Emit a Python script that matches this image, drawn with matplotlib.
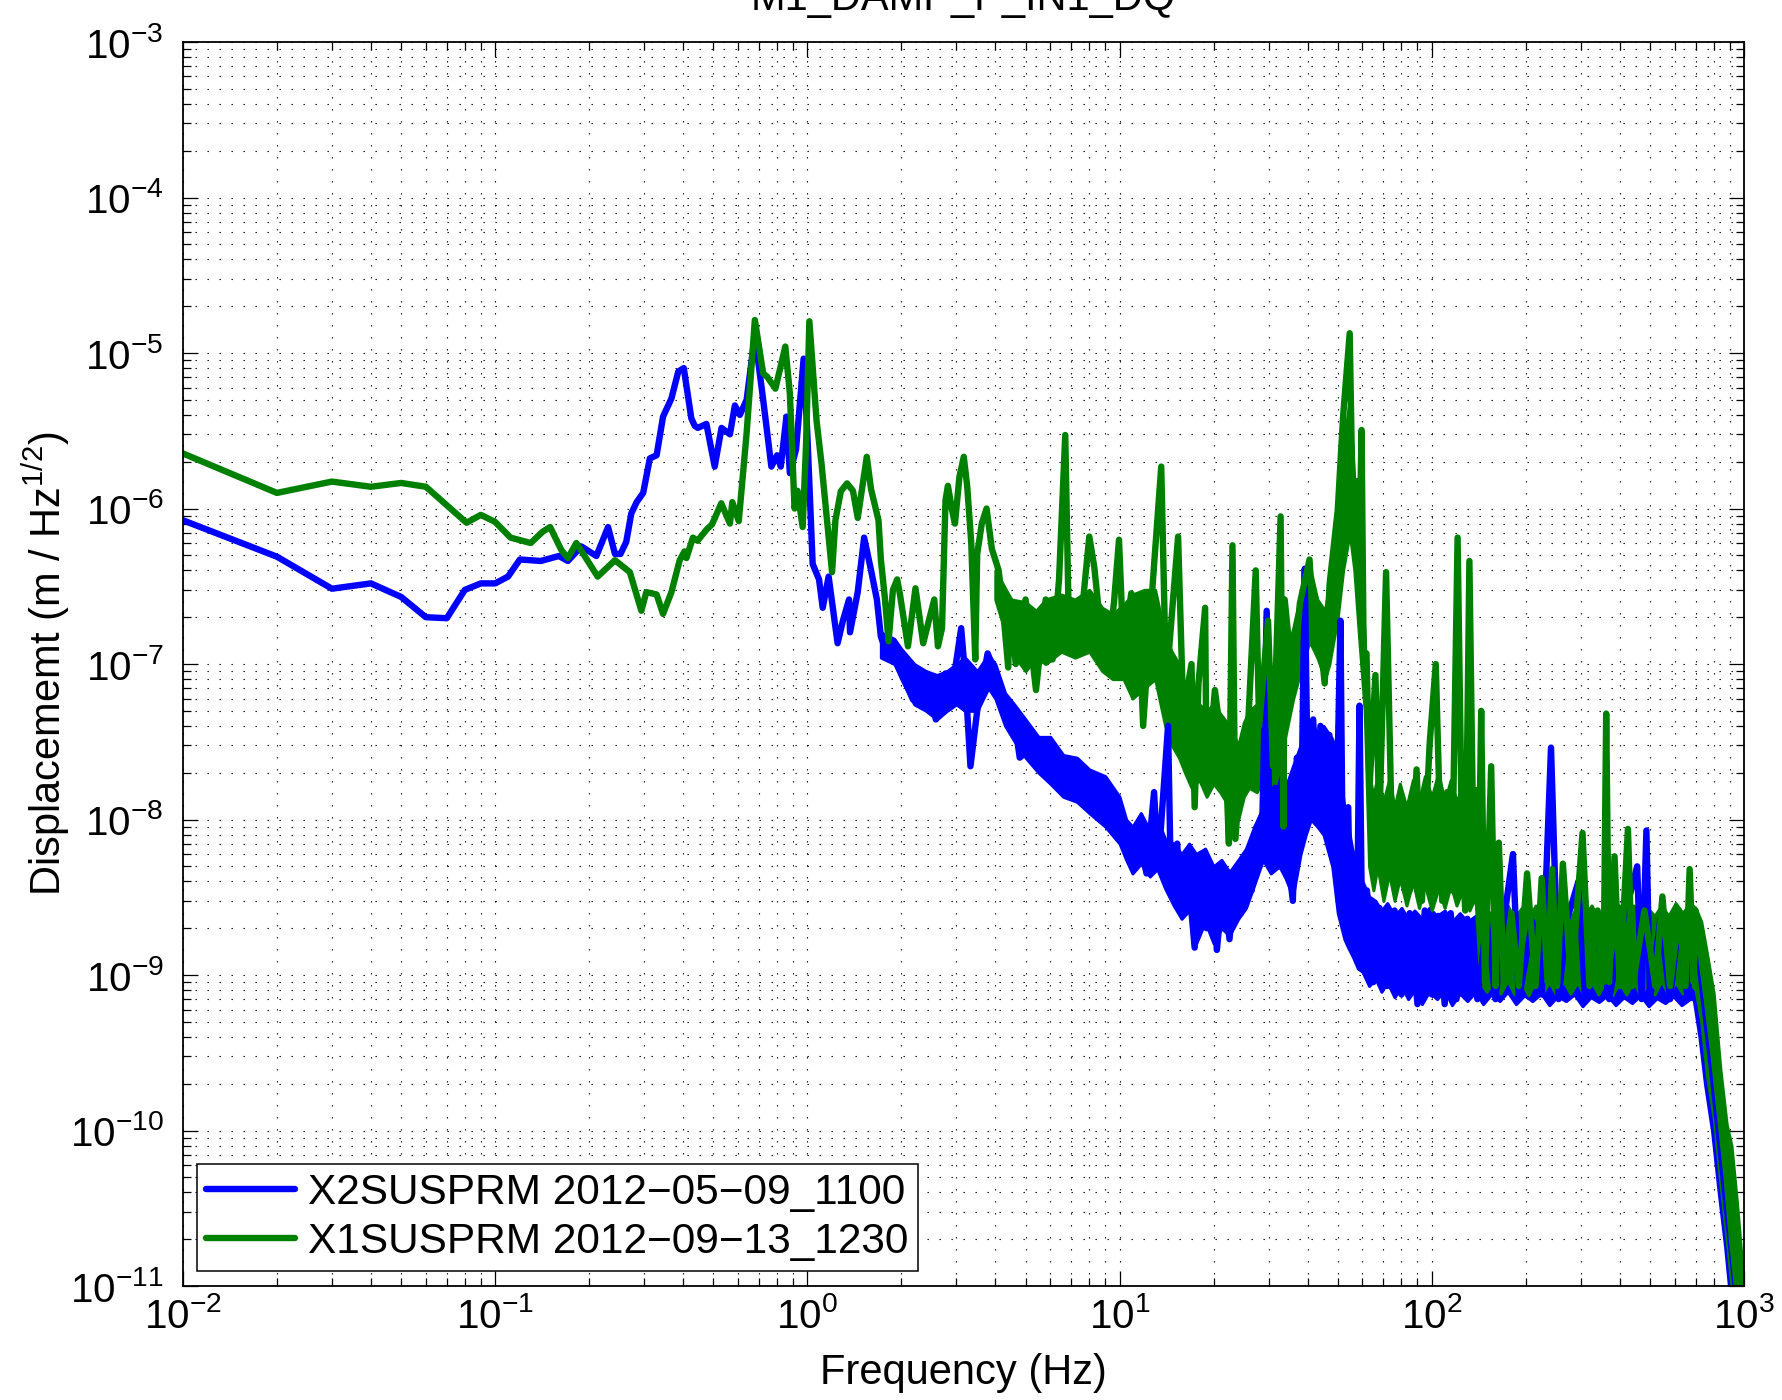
import numpy as np
import matplotlib
matplotlib.use("Agg")
import matplotlib.pyplot as plt
from matplotlib.ticker import LogLocator, NullFormatter

# X2SUSPRM trace (Hz, m/rtHz)
blue_f = [0.010, 0.020, 0.030, 0.040, 0.050, 0.060, 0.070, 0.080, 0.090, 0.100,
          0.110, 0.120, 0.140, 0.160, 0.171, 0.189, 0.211, 0.230, 0.242, 0.252,
          0.263, 0.273, 0.284, 0.298, 0.313, 0.329, 0.345, 0.367, 0.386, 0.402,
          0.425, 0.436, 0.446, 0.475, 0.505, 0.531, 0.565, 0.586, 0.608, 0.639,
          0.679, 0.722, 0.767, 0.800, 0.822, 0.857, 0.879, 0.920, 0.973, 1.000,
          1.04, 1.09, 1.12, 1.17, 1.25, 1.30, 1.36, 1.37, 1.45, 1.52,
          1.60, 1.67, 1.72, 1.82, 1.90, 2.00, 2.18, 2.40, 2.58, 2.77,
          2.85, 3.11, 3.20, 3.33, 3.50, 3.78, 3.90, 4.10, 4.57, 4.79,
          5.10, 5.80, 6.60, 7.30, 8.40, 9.50, 10.5, 11.0, 11.5, 12.2,
          12.9, 13.3, 14.3, 14.6, 15.3, 15.8, 16.5, 17.4, 18.2, 19.0,
          19.8, 20.5, 21.5, 22.5, 23.5, 24.5, 25.5, 26.5, 27.5, 28.5,
          29.6, 30.2, 31.5, 32.5, 33.5, 34.5, 35.9, 37.0, 38.2, 39.2,
          40.0, 41.7, 43.0, 44.0, 45.5, 47.0, 48.5, 50.0, 51.0, 52.0,
          54.0, 55.0, 56.5, 57.5, 58.7, 60.0, 62.0, 65.0, 68.0, 72.0,
          76.0, 80.0, 85.0, 90.0, 95.0, 100, 105, 110, 115, 120,
          130, 140, 150, 160, 170, 182, 190, 210, 225, 241,
          255, 270, 295, 310, 340, 370, 410, 455, 470, 487,
          500, 540, 580, 620, 660, 690, 720, 750, 790, 830,
          870, 905, 940, 980]
blue_amp = [8.4e-7, 4.9e-7, 3.05e-7, 3.3e-7, 2.7e-7, 2.0e-7, 1.97e-7, 3.0e-7, 3.3e-7, 3.3e-7,
            3.65e-7, 4.7e-7, 4.6e-7, 4.95e-7, 4.6e-7, 5.7e-7, 4.95e-7, 7.6e-7, 5.1e-7, 5.1e-7,
            6.1e-7, 9.3e-7, 1.1e-6, 1.26e-6, 2.1e-6, 2.2e-6, 3.9e-6, 5.1e-6, 7.6e-6, 8.0e-6,
            3.8e-6, 3.4e-6, 3.3e-6, 3.5e-6, 1.86e-6, 3.3e-6, 3.0e-6, 4.6e-6, 4.0e-6, 5.0e-6,
            1.3e-5, 5.0e-6, 1.86e-6, 2.2e-6, 1.86e-6, 3.9e-6, 1.69e-6, 2.4e-6, 9.2e-6, 3.0e-6,
            4.4e-7, 3.5e-7, 2.3e-7, 3.65e-7, 1.36e-7, 1.9e-7, 2.6e-7, 1.6e-7, 2.9e-7, 6.5e-7,
            4.0e-7, 2.6e-7, 1.5e-7, 1.09e-7, 1.36e-7, 8.7e-8, 5.9e-8, 8.7e-8, 4.4e-8, 8.7e-8,
            5.2e-8, 1.7e-7, 8.5e-8, 2.2e-8, 5.0e-8, 1.17e-7, 1.0e-7, 5.9e-8, 4.8e-8, 2.5e-8,
            2.8e-8, 2.0e-8, 1.6e-8, 1.8e-8, 1.27e-8, 1.1e-8, 9.0e-9, 5.0e-9, 8.0e-9, 4.5e-9,
            1.5e-8, 5.0e-9, 4.0e-8, 4.0e-9, 7.0e-9, 2.5e-9, 5.0e-9, 1.5e-9, 6.0e-9, 2.0e-9,
            4.5e-9, 1.45e-9, 4.0e-9, 1.7e-9, 4.5e-9, 2.5e-9, 6.0e-9, 3.5e-9, 9.0e-9, 5.5e-9,
            2.2e-7, 8.0e-9, 1.6e-8, 5.0e-9, 2.0e-8, 6.0e-9, 3.0e-9, 2.5e-8, 1.0e-8, 4.1e-7,
            2.0e-8, 4.4e-8, 1.2e-8, 4.0e-8, 1.0e-8, 3.5e-8, 6.0e-9, 2.5e-8, 1.9e-7, 3.0e-9,
            1.2e-8, 1.6e-9, 6.0e-9, 1.3e-9, 5.4e-8, 1.1e-9, 3.5e-9, 9.0e-10, 2.7e-9, 8.5e-10,
            2.6e-9, 7.5e-10, 2.5e-9, 6.5e-10, 2.6e-9, 7.5e-10, 2.4e-9, 6.5e-10, 2.5e-9, 7.0e-10,
            2.3e-9, 7.0e-10, 2.2e-9, 7.0e-10, 2.2e-9, 6.0e-9, 7.0e-10, 2.2e-9, 7.5e-10, 2.9e-8,
            7.0e-10, 2.2e-9, 4.0e-9, 7.0e-10, 2.2e-9, 7.0e-10, 2.2e-9, 5.0e-9, 7.0e-10, 8.5e-9,
            7.0e-10, 2.3e-9, 7.0e-10, 2.4e-9, 7.0e-10, 2.5e-9, 1.2e-9, 6.0e-10, 2.5e-10, 1.0e-10,
            4.0e-11, 2.0e-11, 1.0e-11, 5.0e-12]

# noisy stretch of the X2SUSPRM trace: (Hz, lower edge, upper edge)
blue_band = [
    (1.72, 1.1e-7, 1.6e-7), (1.90, 1.0e-7, 1.45e-7), (2.00, 8.0e-8, 1.25e-7),
    (2.20, 5.5e-8, 1.0e-7), (2.40, 5.0e-8, 9.0e-8), (2.60, 4.4e-8, 8.5e-8),
    (2.80, 5.0e-8, 9.0e-8), (3.00, 5.5e-8, 1.0e-7), (3.20, 5.0e-8, 1.1e-7),
    (3.50, 5.0e-8, 9.0e-8), (3.80, 7.0e-8, 1.15e-7), (4.00, 6.0e-8, 1.0e-7),
    (4.30, 4.0e-8, 6.5e-8), (4.60, 3.2e-8, 5.5e-8), (5.00, 2.5e-8, 4.4e-8),
    (5.50, 2.0e-8, 3.4e-8), (6.00, 1.7e-8, 3.4e-8), (6.60, 1.4e-8, 2.6e-8),
    (7.30, 1.3e-8, 2.5e-8), (8.00, 1.1e-8, 2.1e-8), (9.00, 9.0e-9, 1.9e-8),
    (10.0, 7.0e-9, 1.4e-8), (10.5, 5.5e-9, 1.0e-8), (11.0, 4.5e-9, 9.0e-9),
    (11.7, 5.2e-9, 1.1e-8), (12.5, 4.3e-9, 8.5e-9), (13.2, 4.8e-9, 1.0e-8),
    (14.0, 3.6e-9, 7.5e-9), (14.9, 2.8e-9, 7.0e-9), (15.8, 2.3e-9, 6.0e-9),
    (16.7, 2.6e-9, 7.0e-9), (17.6, 1.6e-9, 6.0e-9), (18.8, 2.2e-9, 6.5e-9),
    (20.0, 1.6e-9, 5.0e-9), (21.2, 2.0e-9, 5.5e-9), (22.5, 1.8e-9, 4.6e-9),
    (24.0, 2.3e-9, 5.5e-9), (25.4, 2.7e-9, 6.5e-9), (27.0, 3.8e-9, 9.0e-9),
    (28.8, 5.5e-9, 1.2e-8), (30.5, 4.5e-9, 1.7e-8), (32.5, 5.0e-9, 2.0e-8),
    (34.0, 4.2e-9, 1.6e-8), (35.9, 3.2e-9, 2.2e-8), (38.0, 6.0e-9, 3.0e-8),
    (39.5, 8.0e-9, 3.6e-8), (41.0, 1.0e-8, 4.4e-8), (43.0, 9.0e-9, 3.5e-8),
    (45.0, 8.0e-9, 4.0e-8), (48.0, 5.0e-9, 3.3e-8), (50.0, 2.5e-9, 2.5e-8),
    (52.5, 1.7e-9, 1.2e-8), (54.0, 1.5e-9, 9.0e-9), (56.0, 1.3e-9, 6.0e-9),
    (58.0, 1.1e-9, 4.5e-9), (60.0, 1.05e-9, 4.0e-9), (63.0, 8.5e-10, 3.2e-9),
    (66.0, 9.5e-10, 3.0e-9), (69.0, 7.8e-10, 2.6e-9), (72.0, 9.0e-10, 2.9e-9),
    (76.0, 7.2e-10, 2.4e-9), (80.0, 8.5e-10, 2.7e-9), (84.0, 7.0e-10, 2.3e-9),
    (88.0, 8.0e-10, 2.6e-9), (93.0, 6.5e-10, 2.3e-9), (98.0, 7.8e-10, 2.7e-9),
    (104, 7.0e-10, 2.4e-9), (110, 8.0e-10, 2.6e-9), (116, 6.4e-10, 2.2e-9),
    (123, 7.6e-10, 2.5e-9), (130, 6.8e-10, 2.2e-9), (138, 7.8e-10, 2.4e-9),
    (146, 6.5e-10, 2.1e-9), (155, 7.5e-10, 2.4e-9), (165, 6.8e-10, 2.1e-9),
    (175, 7.8e-10, 2.3e-9), (186, 6.5e-10, 2.0e-9), (198, 7.4e-10, 2.3e-9),
    (210, 6.8e-10, 2.1e-9), (224, 7.6e-10, 2.4e-9), (238, 6.4e-10, 2.0e-9),
    (253, 7.3e-10, 2.3e-9), (269, 6.8e-10, 2.1e-9), (286, 7.5e-10, 2.4e-9),
    (304, 6.3e-10, 2.0e-9), (323, 7.2e-10, 2.3e-9), (343, 6.7e-10, 2.1e-9),
    (365, 7.4e-10, 2.4e-9), (388, 6.4e-10, 2.1e-9), (412, 7.2e-10, 2.3e-9),
    (438, 6.6e-10, 2.1e-9), (466, 7.4e-10, 2.4e-9), (495, 6.3e-10, 2.1e-9),
    (526, 7.1e-10, 2.4e-9), (559, 6.6e-10, 2.2e-9), (594, 7.3e-10, 2.5e-9),
    (631, 6.4e-10, 2.2e-9), (670, 7.0e-10, 2.5e-9), (690, 7.0e-10, 2.5e-9),
    (720, 4.0e-10, 2.0e-9), (750, 2.0e-10, 1.3e-9), (790, 1.0e-10, 7.0e-10),
    (830, 4.0e-11, 2.3e-10), (870, 1.8e-11, 1.0e-10), (905, 8.0e-12, 7.0e-11),
    (940, 5.0e-12, 3.0e-11), (990, 5.0e-12, 1.0e-11),
]

# X1SUSPRM trace (Hz, m/rtHz)
green_f = [0.010, 0.020, 0.030, 0.040, 0.050, 0.060, 0.081, 0.090, 0.100, 0.112,
           0.130, 0.142, 0.150, 0.163, 0.171, 0.182, 0.213, 0.242, 0.270, 0.294,
           0.305, 0.329, 0.345, 0.367, 0.390, 0.404, 0.410, 0.430, 0.445, 0.475,
           0.495, 0.530, 0.565, 0.575, 0.603, 0.639, 0.679, 0.722, 0.745, 0.790,
           0.850, 0.879, 0.910, 0.930, 0.966, 0.990, 1.015, 1.07, 1.11, 1.17,
           1.20, 1.23, 1.28, 1.34, 1.40, 1.45, 1.55, 1.60, 1.69, 1.72,
           1.77, 1.82, 1.88, 1.94, 1.98, 2.10, 2.22, 2.35, 2.45, 2.55,
           2.62, 2.70, 2.77, 2.82, 2.90, 2.97, 3.07, 3.17, 3.25, 3.35,
           3.45, 3.50, 3.62, 3.75, 3.90, 4.10, 4.20, 4.40, 4.45, 4.65,
           5.00, 5.40, 5.80, 6.10, 6.40, 6.70, 6.85, 6.95, 7.40, 7.70,
           8.00, 8.30, 8.60, 9.10, 9.60, 9.96, 10.3, 10.9, 11.5, 11.9,
           12.8, 13.6, 14.1, 15.4, 16.0, 17.0, 17.4, 17.9, 18.8, 19.0,
           20.2, 22.0, 22.4, 23.0, 23.5, 24.5, 25.8, 27.3, 28.0, 29.9,
           31.0, 32.8, 33.5, 33.8, 36.0, 37.8, 40.6, 42.0, 43.0, 45.4,
           47.1, 50.0, 52.0, 54.6, 55.5, 56.3, 57.5, 58.5, 59.6, 60.5,
           61.8, 63.2, 66.0, 68.0, 71.4, 74.0, 76.0, 80.0, 85.0, 89.4,
           93.0, 98.5, 103, 108, 112, 116, 121, 125, 128, 132,
           136, 141, 144, 148, 155, 160, 164, 170, 180, 190,
           202, 215, 225, 235, 243, 252, 263, 280, 304, 320,
           340, 355, 362, 370, 385, 400, 425, 440, 480, 520,
           548, 580, 620, 650, 670, 690, 700, 730, 760, 800,
           840, 880, 915, 950, 1000]
green_amp = [2.26e-6, 1.26e-6, 1.49e-6, 1.38e-6, 1.46e-6, 1.38e-6, 8.1e-7, 9.1e-7, 8.2e-7, 6.5e-7,
             6.0e-7, 7.1e-7, 7.6e-7, 5.4e-7, 4.8e-7, 6.0e-7, 3.65e-7, 4.65e-7, 3.9e-7, 2.2e-7,
             2.9e-7, 2.8e-7, 2.1e-7, 2.9e-7, 4.65e-7, 5.3e-7, 4.8e-7, 6.5e-7, 6.2e-7, 7.3e-7,
             7.9e-7, 1.08e-6, 8.0e-7, 1.1e-6, 8.3e-7, 3.05e-6, 1.63e-5, 7.4e-6, 7.0e-6, 5.9e-6,
             1.1e-5, 5.5e-6, 1.0e-6, 1.3e-6, 7.6e-7, 2.5e-6, 1.6e-5, 3.7e-6, 1.95e-6, 6.6e-7,
             3.9e-7, 8.4e-7, 1.29e-6, 1.45e-6, 1.3e-6, 8.7e-7, 2.15e-6, 1.33e-6, 8.4e-7, 4.7e-7,
             2.7e-7, 1.4e-7, 3.0e-7, 3.5e-7, 2.8e-7, 1.3e-7, 3.07e-7, 1.36e-7, 1.9e-7, 2.6e-7,
             1.3e-7, 1.7e-7, 1.13e-6, 1.4e-6, 1.0e-6, 8.0e-7, 1.6e-6, 2.15e-6, 1.4e-6, 6.0e-7,
             1.07e-7, 5.1e-7, 8.0e-7, 1.0e-6, 5.5e-7, 4.0e-7, 2.7e-7, 9.5e-8, 2.6e-7, 1.0e-7,
             2.6e-7, 6.8e-8, 2.6e-7, 1.07e-7, 3.5e-7, 2.97e-6, 2.8e-7, 1.5e-7, 1.2e-7, 3.0e-7,
             6.6e-7, 4.2e-7, 2.1e-7, 9.5e-8, 2.5e-7, 6.3e-7, 1.2e-7, 2.85e-7, 2.3e-7, 4.0e-8,
             3.5e-7, 1.86e-6, 7.2e-8, 6.6e-7, 4.8e-8, 1.0e-7, 1.2e-8, 7.5e-8, 2.3e-7, 1.6e-8,
             6.8e-8, 1.8e-8, 7.0e-9, 5.8e-7, 7.5e-9, 2.4e-8, 4.0e-8, 4.0e-7, 4.0e-8, 1.9e-7,
             2.2e-8, 8.9e-7, 9.0e-9, 2.6e-7, 7.2e-8, 2.45e-7, 4.7e-7, 1.5e-7, 2.2e-7, 7.5e-8,
             3.3e-7, 9.8e-7, 3.9e-6, 1.34e-5, 2.0e-6, 6.0e-7, 1.5e-6, 4.0e-7, 3.2e-6, 1.2e-7,
             1.17e-7, 1.6e-8, 8.5e-8, 1.0e-8, 3.9e-7, 1.5e-8, 4.0e-9, 1.3e-8, 3.5e-9, 2.1e-8,
             3.0e-9, 3.1e-8, 1.0e-7, 3.0e-9, 1.5e-8, 3.5e-9, 6.5e-7, 7.0e-9, 2.6e-9, 4.6e-7,
             6.0e-9, 2.7e-9, 5.0e-8, 9.0e-10, 2.2e-8, 8.5e-10, 7.1e-9, 9.0e-10, 2.5e-9, 8.5e-10,
             4.5e-9, 8.5e-10, 4.2e-9, 9.0e-10, 4.8e-9, 8.5e-10, 5.2e-9, 8.5e-10, 8.2e-9, 8.5e-10,
             2.6e-9, 9.0e-10, 4.8e-8, 9.0e-10, 5.8e-9, 8.5e-10, 8.7e-9, 8.5e-10, 2.6e-9, 8.5e-10,
             3.2e-9, 8.5e-10, 2.6e-9, 8.5e-10, 4.8e-9, 9.0e-10, 2.6e-9, 1.3e-9, 7.0e-10, 3.0e-10,
             1.2e-10, 5.0e-11, 2.0e-11, 1.0e-11, 5.0e-12]

# noisy stretch of the X1SUSPRM trace: (Hz, lower edge, upper edge)
green_band = [
    (4.0, 2.6e-7, 4.0e-7), (4.5, 1.2e-7, 2.6e-7), (5.0, 9.0e-8, 2.5e-7),
    (5.4, 1.1e-7, 2.2e-7), (5.8, 1.0e-7, 2.6e-7), (6.5, 1.2e-7, 2.8e-7),
    (7.2, 1.1e-7, 2.6e-7), (8.0, 1.2e-7, 3.0e-7), (8.8, 9.0e-8, 2.3e-7),
    (9.5, 8.0e-8, 2.1e-7), (10.3, 8.0e-8, 2.4e-7), (11.0, 6.0e-8, 2.8e-7),
    (12.0, 7.0e-8, 3.0e-7), (13.0, 8.0e-8, 3.0e-7), (14.0, 4.0e-8, 1.5e-7),
    (14.7, 3.0e-8, 1.2e-7), (15.5, 2.5e-8, 1.0e-7), (16.2, 2.0e-8, 7.0e-8),
    (17.0, 1.6e-8, 6.0e-8), (18.0, 1.8e-8, 5.5e-8), (19.0, 1.4e-8, 5.0e-8),
    (20.0, 1.7e-8, 5.5e-8), (21.0, 1.5e-8, 4.8e-8), (22.5, 1.2e-8, 4.0e-8),
    (24.0, 1.0e-8, 3.0e-8), (25.0, 1.4e-8, 4.2e-8), (26.0, 1.6e-8, 5.0e-8),
    (27.5, 1.5e-8, 5.5e-8), (28.8, 1.8e-8, 6.0e-8), (30.0, 1.3e-8, 5.0e-8),
    (31.0, 1.5e-8, 6.5e-8), (32.3, 2.0e-8, 8.0e-8), (33.5, 3.0e-8, 1.0e-7),
    (36.0, 6.0e-8, 1.7e-7), (38.0, 9.0e-8, 2.8e-7), (40.6, 1.4e-7, 4.3e-7),
    (43.0, 1.1e-7, 2.6e-7), (45.5, 8.0e-8, 2.2e-7), (47.0, 1.0e-7, 3.3e-7),
    (50.0, 2.0e-7, 9.0e-7), (52.0, 4.0e-7, 2.5e-6), (54.6, 7.0e-7, 5.0e-6),
    (56.5, 4.0e-7, 1.5e-6), (58.5, 1.5e-7, 6.0e-7), (61.0, 5.0e-8, 1.5e-7),
    (63.0, 5.0e-9, 2.0e-8), (65.0, 3.5e-9, 1.4e-8), (67.0, 5.0e-9, 1.9e-8),
    (70.0, 3.0e-9, 1.3e-8), (73.0, 4.5e-9, 1.8e-8), (76.0, 3.0e-9, 1.2e-8),
    (79.0, 4.2e-9, 1.7e-8), (83.0, 2.8e-9, 1.2e-8), (87.0, 4.0e-9, 1.8e-8),
    (91.0, 2.7e-9, 1.3e-8), (95.0, 3.8e-9, 1.9e-8), (100, 2.6e-9, 1.4e-8),
    (105, 3.6e-9, 2.0e-8), (110, 2.7e-9, 1.3e-8), (115, 3.8e-9, 1.8e-8),
    (120, 2.8e-9, 1.3e-8), (126, 3.6e-9, 1.7e-8), (132, 2.6e-9, 1.2e-8),
    (138, 3.2e-9, 1.6e-8), (141, 1.5e-9, 5.0e-9), (143, 9.0e-10, 2.6e-9),
    (150, 7.8e-10, 2.3e-9), (158, 9.5e-10, 2.7e-9), (166, 7.6e-10, 2.3e-9),
    (175, 9.2e-10, 2.8e-9), (184, 7.5e-10, 2.3e-9), (194, 9.0e-10, 2.7e-9),
    (204, 7.4e-10, 2.3e-9), (215, 9.2e-10, 2.8e-9), (226, 7.6e-10, 2.4e-9),
    (238, 9.0e-10, 2.8e-9), (251, 7.4e-10, 2.3e-9), (264, 9.2e-10, 2.7e-9),
    (278, 7.6e-10, 2.3e-9), (293, 9.0e-10, 2.8e-9), (308, 7.3e-10, 2.4e-9),
    (325, 9.0e-10, 2.8e-9), (342, 7.5e-10, 2.3e-9), (360, 9.2e-10, 2.7e-9),
    (379, 7.4e-10, 2.3e-9), (399, 9.0e-10, 2.8e-9), (420, 7.5e-10, 2.4e-9),
    (443, 9.2e-10, 2.8e-9), (466, 7.3e-10, 2.3e-9), (491, 9.0e-10, 2.7e-9),
    (517, 7.5e-10, 2.4e-9), (544, 9.2e-10, 2.8e-9), (573, 7.4e-10, 2.4e-9),
    (604, 9.0e-10, 2.9e-9), (636, 7.6e-10, 2.5e-9), (670, 9.0e-10, 2.9e-9),
    (700, 8.0e-10, 2.7e-9), (730, 5.0e-10, 2.2e-9), (760, 2.3e-10, 1.4e-9),
    (800, 1.2e-10, 7.6e-10), (840, 4.6e-11, 2.5e-10), (880, 2.0e-11, 1.1e-10),
    (912, 1.0e-11, 8.0e-11), (950, 5.0e-12, 3.4e-11), (1000, 5.0e-12, 1.0e-11),
]

series_labels = ["X2SUSPRM 2012\u221205\u221209_1100", "X1SUSPRM 2012\u221209\u221213_1230"]
title = "M1_DAMP_P_IN1_DQ"

BLUE = "#0000ff"
GREEN = "#008000"
LW = 4.6

plt.rcParams["font.family"] = ["Liberation Sans", "DejaVu Sans"]
plt.rcParams["mathtext.fontset"] = "custom"
plt.rcParams["mathtext.rm"] = "Liberation Sans"
plt.rcParams["mathtext.it"] = "Liberation Sans:italic"
plt.rcParams["mathtext.default"] = "regular"

fig = plt.figure(figsize=(17.83, 14.0), dpi=100)
ax = fig.add_axes([0.1026, 0.0814, 0.8755, 0.8886])

bf, blo, bhi = zip(*blue_band)
gf, glo, ghi = zip(*green_band)

ax.fill_between(bf, blo, bhi, color=BLUE, ec=BLUE, lw=2.2, joinstyle="round")
ax.plot(blue_f, blue_amp, color=BLUE, lw=LW, solid_joinstyle="round",
        solid_capstyle="round", label=series_labels[0])
ax.fill_between(gf, glo, ghi, color=GREEN, ec=GREEN, lw=2.2, joinstyle="round")
ax.plot(green_f, green_amp, color=GREEN, lw=LW, solid_joinstyle="round",
        solid_capstyle="round", label=series_labels[1])

ax.set_xscale("log")
ax.set_yscale("log")
ax.set_xlim(1e-2, 1e3)
ax.set_ylim(1e-11, 1e-3)

for axis in (ax.xaxis, ax.yaxis):
    axis.set_major_locator(LogLocator(base=10, numticks=20))
    axis.set_minor_locator(LogLocator(base=10, subs=np.arange(2, 10), numticks=200))
    axis.set_minor_formatter(NullFormatter())

ax.set_axisbelow(True)
ax.grid(True, which="both", color="k", lw=0.8, linestyle=(0, (1.2, 9.6)))

ax.tick_params(which="both", direction="in", top=True, right=True, width=0.9)
ax.tick_params(which="major", length=11, labelsize=29)
ax.tick_params(which="minor", length=5.5)
ax.tick_params(axis="y", pad=14)
ax.tick_params(axis="x", pad=8)
for sp in ax.spines.values():
    sp.set_linewidth(1.3)

ax.set_xlabel("Frequency (Hz)", fontsize=30)
ax.set_ylabel("Displacememt (m / Hz$^{1/2}$)", fontsize=30)
ax.xaxis.set_label_coords(0.5, -0.054)
ax.yaxis.set_label_coords(-0.071, 0.5)

fig.text(0.5403, 1 - 10 / 1400, title, ha="center", va="baseline", fontsize=30)

leg = ax.legend(loc="lower left", bbox_to_anchor=(0.009, 0.012), borderaxespad=0,
                fontsize=30.5, handlelength=2.1, handletextpad=0.3, borderpad=0.22,
                labelspacing=0.2, fancybox=False, framealpha=1, edgecolor="k")
leg.get_frame().set_linewidth(1.1)

fig.savefig("out.png", dpi=100)
